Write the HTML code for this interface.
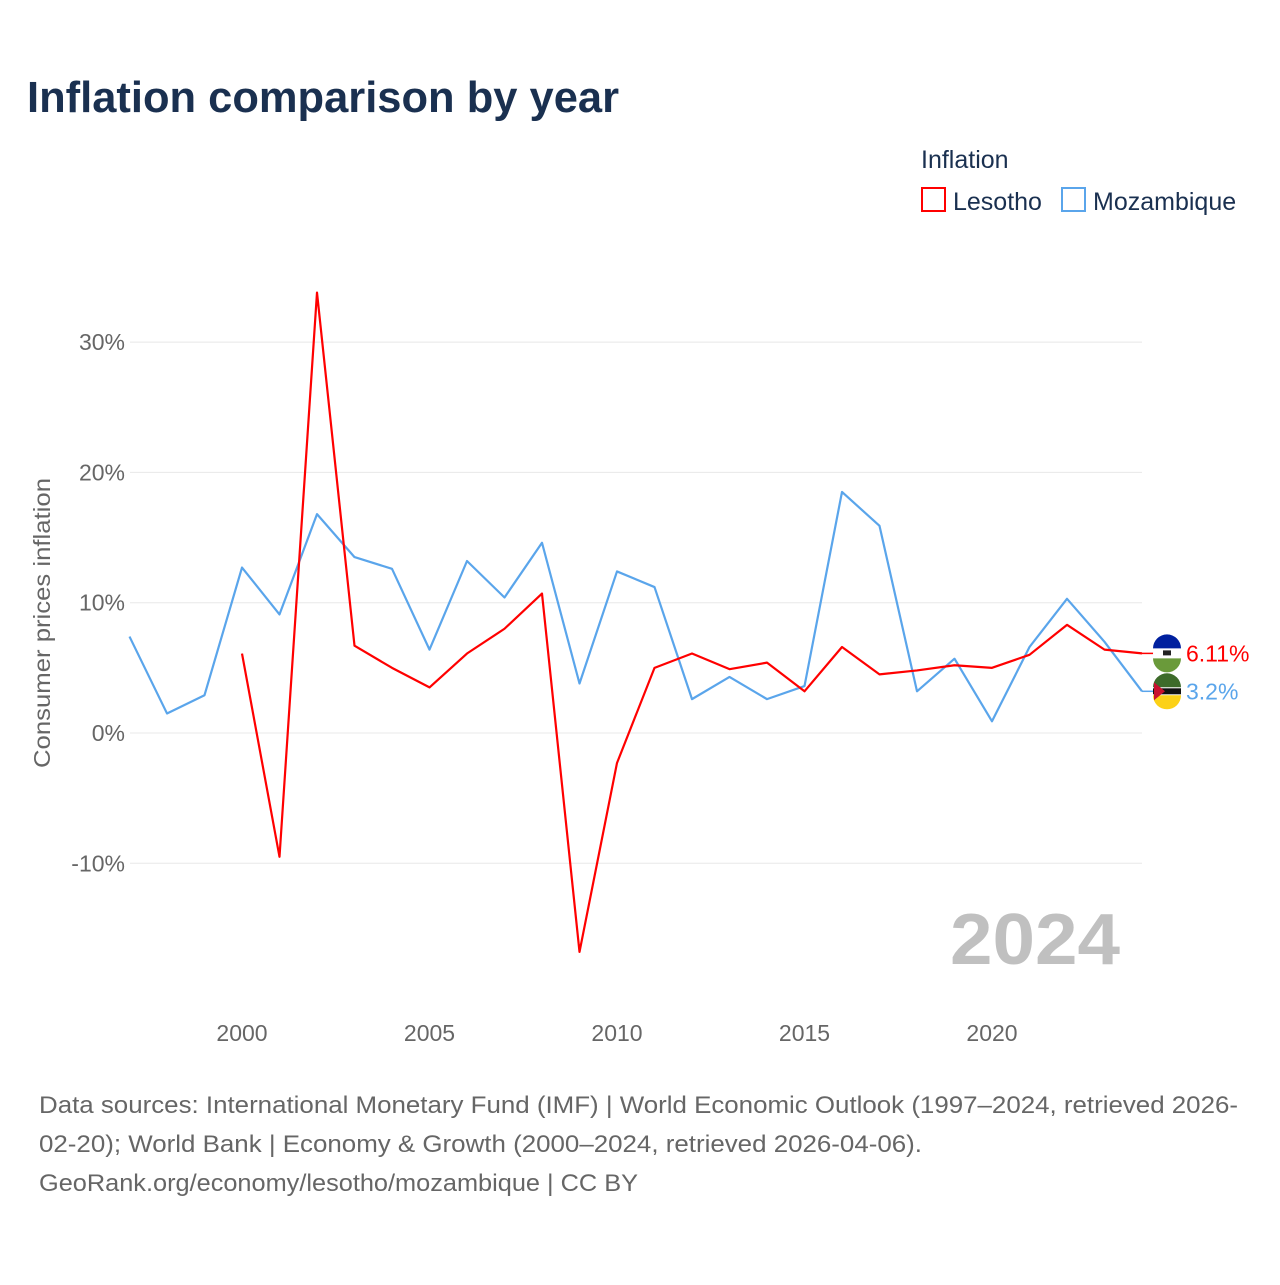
<!DOCTYPE html>
<html><head><meta charset="utf-8"><style>
body{margin:0;background:#fff;font-family:"Liberation Sans",sans-serif;}
svg text{font-family:"Liberation Sans",sans-serif;}
</style></head><body>
<svg id="c" width="1280" height="1280" xmlns="http://www.w3.org/2000/svg">
<text x="27" y="112" font-size="44" font-weight="bold" fill="#1a3050" textLength="592" lengthAdjust="spacingAndGlyphs">Inflation comparison by year</text>
<text x="921" y="168" font-size="25" fill="#1a3050">Inflation</text>
<g><rect x="922" y="188" width="23" height="23" fill="none" stroke="#ff0000" stroke-width="2"/><text x="953" y="210" font-size="25" fill="#1a3050">Lesotho</text></g>
<g><rect x="1062" y="188" width="23" height="23" fill="none" stroke="#5aa5eb" stroke-width="2"/><text x="1093" y="210" font-size="25" fill="#1a3050">Mozambique</text></g>
<text transform="translate(50,623) rotate(-90)" text-anchor="middle" font-size="23" fill="#666" textLength="290" lengthAdjust="spacingAndGlyphs">Consumer prices inflation</text>
<g id="grid"></g><g id="xt"></g><g id="lines"></g>
<text x="950" y="964" font-size="72" font-weight="bold" fill="#c0c0c0" textLength="170" lengthAdjust="spacingAndGlyphs">2024</text>
<g font-size="24" fill="#666">
<text x="39" y="1113" textLength="1199" lengthAdjust="spacingAndGlyphs">Data sources: International Monetary Fund (IMF) | World Economic Outlook (1997–2024, retrieved 2026-</text>
<text x="39" y="1152" textLength="883" lengthAdjust="spacingAndGlyphs">02-20); World Bank | Economy &amp; Growth (2000–2024, retrieved 2026-04-06).</text>
<text x="39" y="1191" textLength="599" lengthAdjust="spacingAndGlyphs">GeoRank.org/economy/lesotho/mozambique | CC BY</text>
</g>
</svg>
<script>
const yTicks=[30,20,10,0,-10];
const xTicks=[2000,2005,2010,2015,2020];
const mozYears=[1997,1998,1999,2000,2001,2002,2003,2004,2005,2006,2007,2008,2009,2010,2011,2012,2013,2014,2015,2016,2017,2018,2019,2020,2021,2022,2023,2024];
const mozValues=[7.4,1.5,2.9,12.7,9.1,16.8,13.5,12.6,6.4,13.2,10.4,14.6,3.8,12.4,11.2,2.6,4.3,2.6,3.6,18.5,15.9,3.2,5.7,0.9,6.6,10.3,7.0,3.2];
const lsoYears=[2000,2001,2002,2003,2004,2005,2006,2007,2008,2009,2010,2011,2012,2013,2014,2015,2016,2017,2018,2019,2020,2021,2022,2023,2024];
const lsoValues=[6.1,-9.5,33.8,6.7,5.0,3.5,6.1,8.0,10.7,-16.8,-2.3,5.0,6.1,4.9,5.4,3.2,6.6,4.5,4.8,5.2,5.0,6.0,8.3,6.4,6.11];
const X=y=>129.5+(y-1997)*37.5;
const Y=v=>733-v*13.03;
const NS="http://www.w3.org/2000/svg";
function mk(t,a,p){const e=document.createElementNS(NS,t);for(const k in a)e.setAttribute(k,a[k]);p.appendChild(e);return e;}
const g=document.getElementById('grid');
yTicks.forEach(v=>{
 const l=mk('line',{x1:130,x2:1142,y1:Y(v),y2:Y(v),stroke:'#e8e8e8','stroke-width':1},g);
 
 
 const t=mk('text',{x:125,y:Y(v)+8,'text-anchor':'end','font-size':23,fill:'#666'},g);
 t.textContent=v+'%';
 
 
});
const xt=document.getElementById('xt');
xTicks.forEach(v=>{
 const t=mk('text',{x:X(v),y:1041,'text-anchor':'middle','font-size':23,fill:'#666'},xt);
 t.textContent=v;
 
 
});
const L=document.getElementById('lines');
function line(ys,vs,col,name){
 const p=mk('polyline',{points:ys.map((y,i)=>X(y)+','+Y(vs[i])).join(' '),fill:'none',stroke:col,'stroke-width':2.2,'stroke-linejoin':'round'},L);
 
 
}
line(mozYears,mozValues,'#5aa5eb','mozambique-line');
line(lsoYears,lsoValues,'#ff0000','lesotho-line');
function endLabel(ys,vs,col,name,txt,flag){
 const v=vs[vs.length-1],yy=Y(v),x=X(ys[ys.length-1]);
 mk('line',{x1:x,x2:x+12,y1:yy,y2:yy,stroke:col,'stroke-width':1.5},L);
 const c=mk('g',{},L);
 
 
 flag(c,x+25,yy);
 const t=mk('text',{x:x+44,y:yy+8,'font-size':23,fill:col},L);
 t.textContent=txt;
 
 
}
endLabel(lsoYears,lsoValues,'#ff0000','lesotho','6.11%',(c,cx,cy)=>{
 mk('circle',{cx,cy,r:14,fill:'#fff'},c);
 mk('path',{d:`M${cx-14},${cy-5} A14,14 0 0 1 ${cx+14},${cy-5} Z`,fill:'#00209f'},c);
 mk('path',{d:`M${cx-14},${cy+5} A14,14 0 0 0 ${cx+14},${cy+5} Z`,fill:'#6a9a3a'},c);
 mk('rect',{x:cx-4,y:cy-3,width:8,height:5,fill:'#222'},c);
});
endLabel(mozYears,mozValues,'#5aa5eb','mozambique','3.2%',(c,cx,cy)=>{
 mk('circle',{cx,cy,r:14,fill:'#fff'},c);
 mk('path',{d:`M${cx-14},${cy-4} A14,14 0 0 1 ${cx+14},${cy-4} Z`,fill:'#3d6b2a'},c);
 mk('path',{d:`M${cx-14},${cy+4} A14,14 0 0 0 ${cx+14},${cy+4} Z`,fill:'#fcd116'},c);
 mk('rect',{x:cx-14,y:cy-3,width:28,height:6,fill:'#111'},c);
 mk('path',{d:`M${cx-13},${cy-9} L${cx-2},${cy} L${cx-13},${cy+9} Z`,fill:'#c8102e'},c);
});
</script>
</body></html>
